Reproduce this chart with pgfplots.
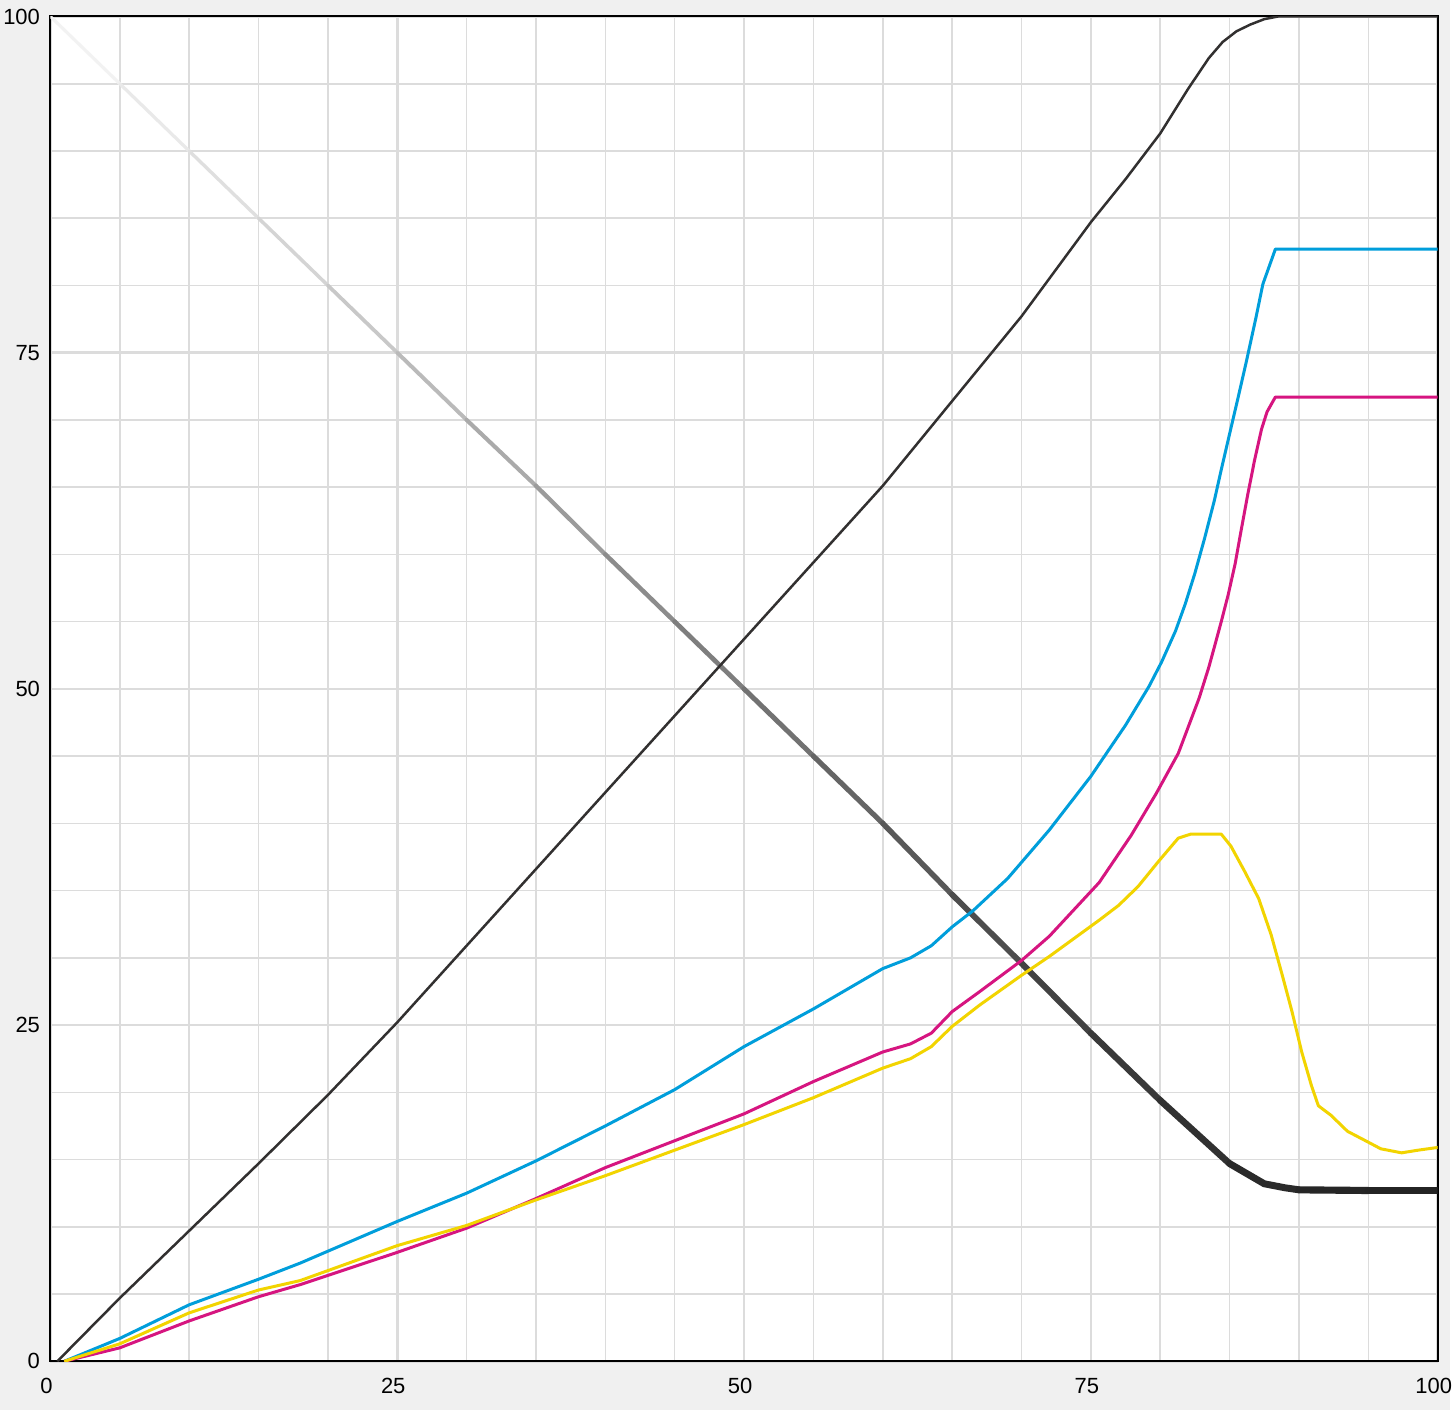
\documentclass[border=0pt]{standalone}
\usepackage{fontspec}
\setmainfont{Liberation Sans}
\usepackage{pgfplots}
\pgfplotsset{compat=1.18}

\definecolor{bgc}{RGB}{240,240,240}
\definecolor{gridc}{RGB}{220,220,220}
\definecolor{cyanc}{RGB}{0,158,219}
\definecolor{magc}{RGB}{214,21,128}
\definecolor{yelc}{RGB}{242,212,0}
\definecolor{blkc}{RGB}{50,48,48}

% one piece of the fading grey curve: grey level, width, points
\newcommand{\gseg}[3]{\addplot[no marks, line width=#2, line cap=round, line join=round,
  color={rgb,255:red,#1;green,#1;blue,#1}] coordinates {#3};}

\begin{document}
\begin{tikzpicture}
\fill[bgc] (-20.2pt,-19.4pt) rectangle (560.6pt,545.4pt);
\begin{axis}[
  at={(0pt,0pt)}, anchor=south west,
  scale only axis, width=555.8pt, height=538.8pt,
  xmin=0, xmax=100, ymin=0, ymax=100,
  xtick={0,25,50,75,100}, ytick={0,25,50,75,100},
  minor xtick={5,10,...,95}, minor ytick={5,10,...,95},
  grid=both,
  major grid style={draw=gridc, line width=1.05pt},
  minor grid style={draw=gridc, line width=0.65pt},
  major tick length=0pt, minor tick length=0pt,
  axis line style={line width=0.8pt, black},
  axis background/.style={fill=white},
  /pgf/number format/assume math mode=true,
  ticklabel style={font=\fontsize{8.8}{10}\selectfont, inner sep=0pt},
  xticklabel style={anchor=north, yshift=-6.6pt, xshift=-1.6pt},
  yticklabel style={anchor=east, xshift=-4pt},
]
% fading grey curve
\gseg{242}{1.24pt}{(0,100) (5,95)}
\gseg{233}{1.28pt}{(5,95) (10,90)}
\gseg{223}{1.34pt}{(10,90) (15,85)}
\gseg{212}{1.40pt}{(15,85) (20,80)}
\gseg{200}{1.48pt}{(20,80) (25,75)}
\gseg{186}{1.56pt}{(25,75) (30,70)}
\gseg{170}{1.64pt}{(30,70) (35,65.1)}
\gseg{155}{1.72pt}{(35,65.1) (40,60)}
\gseg{140}{1.80pt}{(40,60) (45,55)}
\gseg{126}{1.88pt}{(45,55) (50,50)}
\gseg{114}{1.98pt}{(50,50) (55,45)}
\gseg{101}{2.06pt}{(55,45) (60,40)}
\gseg{89}{2.18pt}{(60,40) (65,34.7)}
\gseg{77}{2.30pt}{(65,34.7) (70,29.6)}
\gseg{66}{2.42pt}{(70,29.6) (75,24.4)}
\gseg{57}{2.54pt}{(75,24.4) (80,19.4)}
\gseg{49}{2.66pt}{(80,19.4) (85,14.7)}
\gseg{42}{2.78pt}{(85,14.7) (87.5,13.2) (89,12.9) (90,12.75)}
\gseg{38}{2.86pt}{(90,12.75) (95,12.7)}
\gseg{36}{2.92pt}{(95,12.7) (100,12.7)}

% rising dark curve
\addplot[no marks, blkc, line width=1pt, line join=round] coordinates {
  (0.5,0) (5,4.7) (10,9.7) (15,14.7) (20,19.8) (25,25.2) (30,30.9) (35,36.6)
  (40,42.3) (45,48) (50,53.7) (55,59.4) (60,65.1) (65,71.4) (70,77.7)
  (75,84.7) (77.5,87.9) (80,91.3) (82,94.6) (83.5,96.9) (84.5,98.1)
  (85.5,98.9) (86.5,99.4) (87.5,99.8) (88.5,100) (100,100)
};

% cyan
\addplot[no marks, cyanc, line width=1.2pt, line join=round] coordinates {
  (1,0) (5,1.7) (10,4.2) (15,6.1) (18,7.3) (25,10.4) (30,12.5) (35,14.9)
  (40,17.5) (45,20.2) (50,23.4) (55,26.2) (60,29.2) (62,30) (63.5,30.9)
  (65,32.3) (66.5,33.5) (69,35.9) (72,39.5) (75,43.5) (77.5,47.3) (79.2,50.2)
  (80.1,52) (81.1,54.3) (81.8,56.3) (82.5,58.6) (83.2,61.2) (83.9,64)
  (84.4,66.3) (85.1,69.4) (85.6,71.6) (86.2,74.3) (86.9,77.6) (87.4,80.1)
  (88.3,82.7) (100,82.7)
};

% magenta
\addplot[no marks, magc, line width=1.2pt, line join=round] coordinates {
  (1,0) (5,1) (10,3) (15,4.8) (18,5.7) (25,8.1) (30,9.9) (35,12.1) (40,14.4)
  (45,16.4) (50,18.4) (55,20.8) (60,23) (62,23.6) (63.5,24.4) (65,26) (67,27.5)
  (70,29.8) (72,31.6) (75.6,35.6) (77.9,39.1) (79.7,42.2) (81.3,45.2)
  (82.8,49.3) (83.5,51.6) (83.9,53.1) (84.4,55) (84.9,57) (85.4,59.3)
  (85.8,61.6) (86.3,64.4) (86.8,67) (87.3,69.3) (87.7,70.6) (88.3,71.7)
  (100,71.7)
};

% yellow
\addplot[no marks, yelc, line width=1.2pt, line join=round] coordinates {
  (1,0) (5,1.3) (10,3.6) (15,5.3) (18,6) (25,8.6) (30,10.1) (35,12) (40,13.8)
  (45,15.7) (50,17.6) (55,19.6) (60,21.8) (62,22.5) (63.5,23.4) (65,24.9)
  (67,26.5) (70,28.7) (72,30.1) (75.6,32.8) (77,33.9) (78.4,35.3) (79.9,37.2)
  (81.3,38.9) (82.2,39.2) (84.4,39.2) (85.1,38.3) (86.1,36.4) (87.1,34.4)
  (88,31.7) (88.8,28.7) (89.5,26) (90.2,23) (90.9,20.5) (91.4,19) (92.3,18.3)
  (93.5,17.1) (94.8,16.4) (95.9,15.8) (97.4,15.5) (98.6,15.7) (100,15.9)
};
\end{axis}
\end{tikzpicture}
\end{document}
